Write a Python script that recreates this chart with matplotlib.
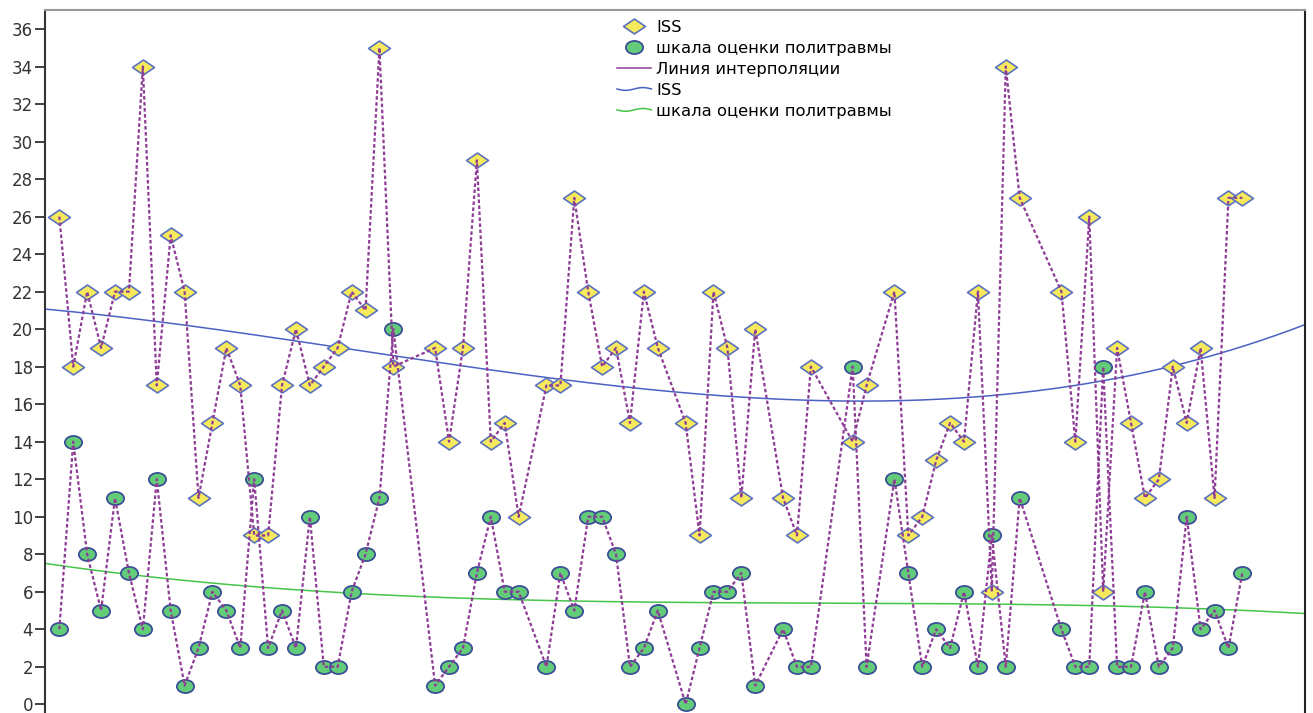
import numpy as np
import matplotlib
matplotlib.use("Agg")
import matplotlib.pyplot as plt
from matplotlib.path import Path
from matplotlib.transforms import Affine2D
from matplotlib.lines import Line2D
from matplotlib.legend_handler import HandlerBase

# # Case positions on the x axis (some cases are missing) and the two scores
point_x = [0, 1, 2, 3, 4, 5, 6, 7, 8, 9, 10, 11, 12, 13, 14, 15, 16, 17, 18, 19,
           20, 21, 22, 23, 24, 27, 28, 29, 30, 31, 32, 33, 35, 36, 37, 38, 39, 40,
           41, 42, 43, 45, 46, 47, 48, 49, 50, 52, 53, 54, 57, 58, 60, 61, 62, 63,
           64, 65, 66, 67, 68, 69, 72, 73, 74, 75, 76, 77, 78, 79, 80, 81, 82, 83,
           84, 85]
iss_values = [26, 18, 22, 19, 22, 22, 34, 17, 25, 22, 11, 15, 19, 17, 9, 9, 17, 20, 17, 18,
              19, 22, 21, 35, 18, 19, 14, 19, 29, 14, 15, 10, 17, 17, 27, 22, 18, 19,
              15, 22, 19, 15, 9, 22, 19, 11, 20, 11, 9, 18, 14, 17, 22, 9, 10, 13,
              15, 14, 22, 6, 34, 27, 22, 14, 26, 6, 19, 15, 11, 12, 18, 15, 19, 11,
              27, 27]
polytrauma_values = [4, 14, 8, 5, 11, 7, 4, 12, 5, 1, 3, 6, 5, 3, 12, 3, 5, 3, 10, 2,
                     2, 6, 8, 11, 20, 1, 2, 3, 7, 10, 6, 6, 2, 7, 5, 10, 10, 8,
                     2, 3, 5, 0, 3, 6, 6, 7, 1, 4, 2, 2, 18, 2, 12, 7, 2, 4,
                     3, 6, 2, 9, 2, 11, 4, 2, 2, 18, 2, 2, 6, 2, 3, 10, 4, 5,
                     3, 7]
y_ticks = list(range(0, 37, 2))

label_iss = "ISS"
label_scale = "шкала оценки политравмы"
label_interp = "Линия интерполяции"

# # Colours
purple = "#8e3c96"
blue_fit = "#4a62c4"
green_fit = "#45c54a"


class WavyHandler(HandlerBase):
    # small s-shaped line for the fit-line legend entries
    def create_artists(self, legend, orig_handle, xdescent, ydescent,
                       width, height, fontsize, trans):
        t = np.linspace(0, 1, 30)
        x = -xdescent + t * width
        y = -ydescent + height / 2 + 0.12 * height * np.sin(2 * np.pi * t + np.pi)
        line = Line2D(x, y, color=orig_handle.get_color(), lw=orig_handle.get_linewidth())
        line.set_transform(trans)
        return [line]


fig = plt.figure(figsize=(13.13, 7.13), dpi=100)
ax = fig.add_axes([45 / 1313, 1 - 723.06 / 713, 1260 / 1313, 712.82 / 713])
ax.set_xlim(-1.03, 89.5)
ax.set_ylim(-1, 37)

# # Marker shapes: flat diamond and flat ellipse
diamond = Path([(-1, 0), (0, 0.68), (1, 0), (0, -0.68), (-1, 0)], closed=True)
ellipse = Affine2D().scale(1, 0.76).transform_path(Path.unit_circle())

# # Cubic fit lines over the whole x range
xs = np.linspace(-1.03, 89.5, 400)
iss_fit = np.polyfit(point_x, iss_values, 3)
scale_fit = np.polyfit(point_x, polytrauma_values, 3)
ax.plot(xs, np.polyval(iss_fit, xs), color=blue_fit, lw=1.1, zorder=2)
ax.plot(xs, np.polyval(scale_fit, xs), color=green_fit, lw=1.1, zorder=2)

# # Points
ax.plot(point_x, iss_values, ls="none", marker=diamond, ms=15.8,
        mfc="#f6ea5c", mec="#5b72c0", mew=1.2, zorder=3)
ax.plot(point_x, polytrauma_values, ls="none", marker=ellipse, ms=12.4,
        mfc="#62cc78", mec="#3b4f96", mew=1.3, zorder=3)

# # Interpolation lines (drawn on top of the markers)
dash = (0, (1.6, 1.1))
ax.plot(point_x, iss_values, color=purple, lw=1.6, ls=dash, zorder=4)
ax.plot(point_x, polytrauma_values, color=purple, lw=1.6, ls=dash, zorder=4)

# # Axes styling
ax.set_yticks(y_ticks)
ax.set_xticks([])
ax.tick_params(axis="y", direction="out", length=7.5, width=1.3, pad=1,
               labelsize=12, colors="#333333")
ax.spines["left"].set_color("#333333")
ax.spines["left"].set_linewidth(1.5)
ax.spines["right"].set_color("#222222")
ax.spines["right"].set_linewidth(1.5)
ax.spines["top"].set_color("#999999")
ax.spines["top"].set_linewidth(1.5)
ax.spines["bottom"].set_color("#333333")

# # Legend
fit_iss_handle = Line2D([], [], color=blue_fit, lw=1.1)
fit_scale_handle = Line2D([], [], color=green_fit, lw=1.1)
handles = [
    Line2D([], [], ls="none", marker=diamond, ms=15.8, mfc="#f6ea5c", mec="#5b72c0", mew=1.2),
    Line2D([], [], ls="none", marker=ellipse, ms=12.4, mfc="#62cc78", mec="#3b4f96", mew=1.3),
    Line2D([], [], color=purple, lw=1.1),
    fit_iss_handle,
    fit_scale_handle,
]
labels = [label_iss, label_scale, label_interp, label_iss, label_scale]
fig.legend(handles, labels, loc="upper left", bbox_to_anchor=(617 / 1313, 1 - 20 / 713),
           bbox_transform=fig.transFigure, frameon=False, fontsize=11.8,
           handlelength=2.1, handletextpad=0.3, labelspacing=0.36,
           borderpad=0, borderaxespad=0,
           handler_map={fit_iss_handle: WavyHandler(), fit_scale_handle: WavyHandler()})

fig.savefig("out.png", dpi=100)
